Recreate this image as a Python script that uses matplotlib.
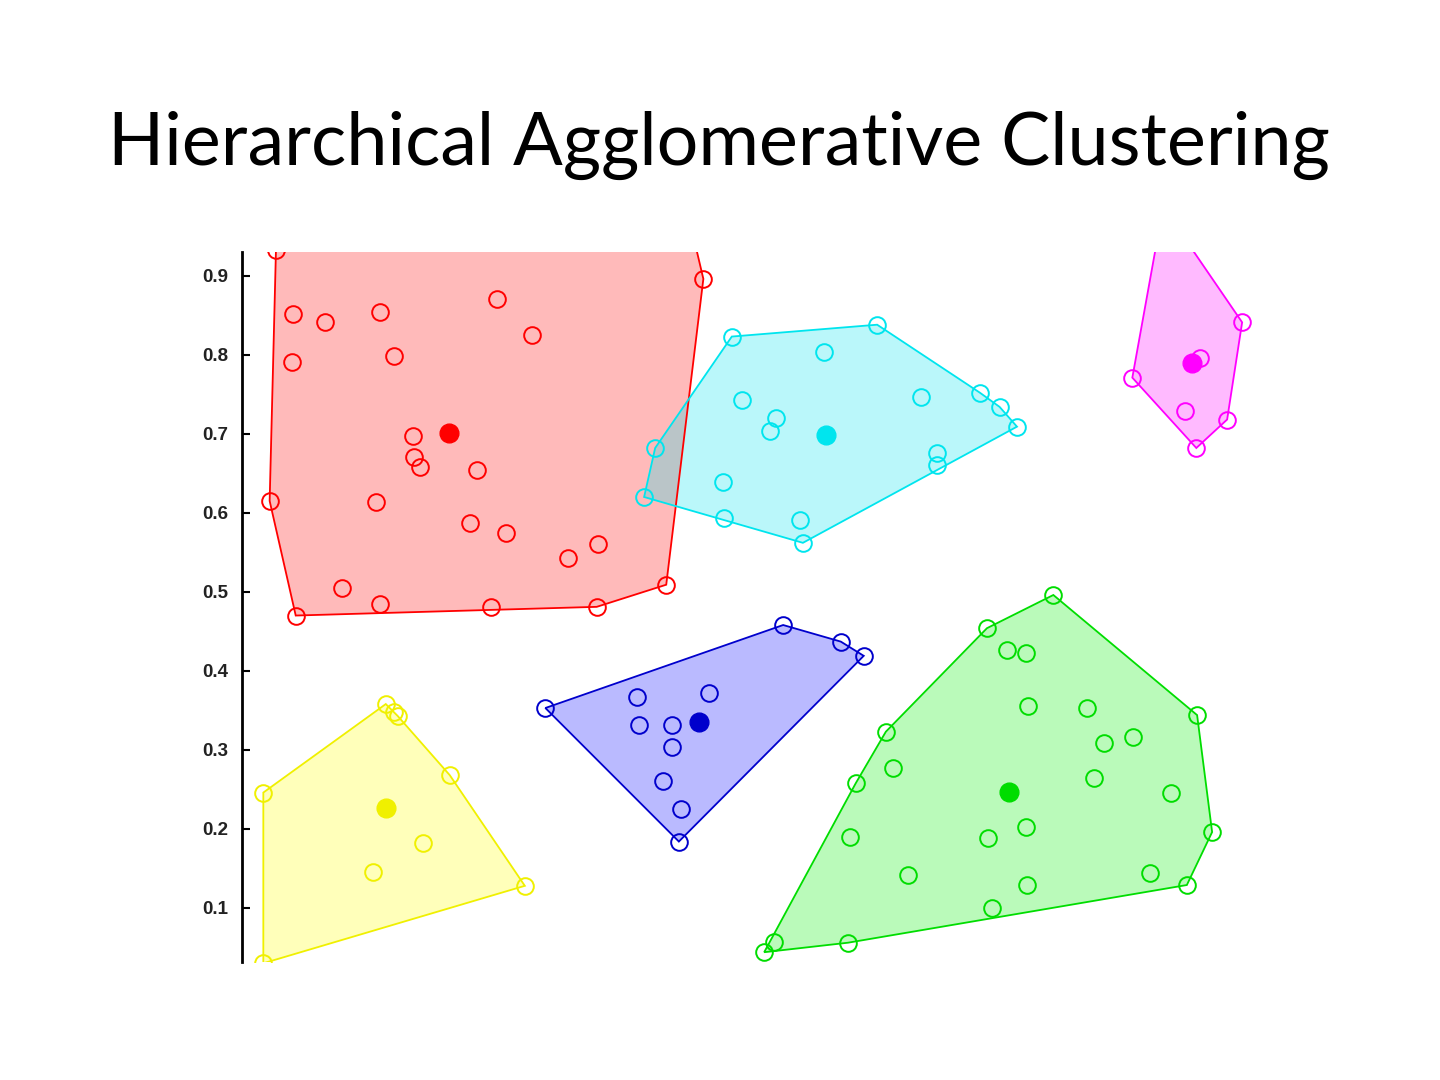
import matplotlib
matplotlib.use("Agg")
import matplotlib.pyplot as plt
import numpy as np

# ---- data (x in arbitrary units, y as on the axis) ----
red_x = [0.043, 0.584, 0.065, 0.105, 0.175, 0.323, 0.367, 0.192, 0.063, 0.216, 0.218, 0.225, 0.297,
         0.035, 0.170, 0.289, 0.334, 0.413, 0.451, 0.127, 0.537, 0.175, 0.315, 0.449, 0.068, 0.567]
red_y = [0.933, 0.896, 0.852, 0.841, 0.854, 0.871, 0.825, 0.799, 0.791, 0.697, 0.670, 0.658, 0.654,
         0.615, 0.614, 0.587, 0.575, 0.543, 0.561, 0.505, 0.509, 0.484, 0.481, 0.481, 0.470, 0.968]
red_c = (0.262, 0.701)

cyan_x = [0.620, 0.804, 0.737, 0.633, 0.676, 0.668, 0.859, 0.934, 0.959, 0.981, 0.880, 0.880,
          0.523, 0.509, 0.609, 0.610, 0.706, 0.710]
cyan_y = [0.823, 0.838, 0.804, 0.743, 0.720, 0.704, 0.746, 0.752, 0.734, 0.709, 0.676, 0.661,
          0.682, 0.620, 0.639, 0.594, 0.591, 0.562]
cyan_c = (0.739, 0.699)

mag_x = [1.266, 1.213, 1.127, 1.194, 1.247, 1.208, 1.166]
mag_y = [0.841, 0.796, 0.771, 0.729, 0.718, 0.682, 0.987]
mag_c = (1.203, 0.790)

blue_x = [0.384, 0.685, 0.758, 0.787, 0.500, 0.591, 0.503, 0.544, 0.544, 0.533, 0.556, 0.553]
blue_y = [0.353, 0.458, 0.437, 0.419, 0.367, 0.372, 0.332, 0.332, 0.304, 0.261, 0.225, 0.184]
blue_c = (0.578, 0.335)

yel_x = [0.182, 0.192, 0.197, 0.263, 0.027, 0.229, 0.166, 0.358, 0.027]
yel_y = [0.358, 0.348, 0.343, 0.268, 0.246, 0.182, 0.146, 0.128, 0.030]
yel_c = (0.182, 0.227)

grn_x = [1.027, 0.943, 0.968, 0.992, 0.995, 1.070, 1.209, 0.815, 1.128, 1.091, 0.824, 1.078, 0.777,
         1.176, 0.992, 0.944, 0.770, 1.228, 0.843, 1.149, 0.994, 1.196, 0.949, 0.767, 0.673, 0.661]
grn_y = [0.496, 0.454, 0.427, 0.423, 0.356, 0.353, 0.344, 0.323, 0.316, 0.309, 0.277, 0.265, 0.258,
         0.246, 0.203, 0.189, 0.190, 0.196, 0.142, 0.144, 0.129, 0.129, 0.100, 0.056, 0.057, 0.044]
grn_c = (0.971, 0.247)

y_ticks = [0.1, 0.2, 0.3, 0.4, 0.5, 0.6, 0.7, 0.8, 0.9]
title = "Hierarchical Agglomerative Clustering"

clusters = [
    (red_x, red_y, red_c, "#ff0000", "#ff0000"),
    (cyan_x, cyan_y, cyan_c, "#00e5ee", "#00e5ee"),
    (mag_x, mag_y, mag_c, "#ff00ff", "#ff00ff"),
    (blue_x, blue_y, blue_c, "#0000cc", "#0000ff"),
    (yel_x, yel_y, yel_c, "#f0f000", "#ffff00"),
    (grn_x, grn_y, grn_c, "#00dd00", "#00ee00"),
]


def hull(xs, ys):
    pts = sorted(set(zip(xs, ys)))
    if len(pts) < 3:
        return pts

    def cross(o, a, b):
        return (a[0] - o[0]) * (b[1] - o[1]) - (a[1] - o[1]) * (b[0] - o[0])

    lower, upper = [], []
    for p in pts:
        while len(lower) >= 2 and cross(lower[-2], lower[-1], p) <= 0:
            lower.pop()
        lower.append(p)
    for p in reversed(pts):
        while len(upper) >= 2 and cross(upper[-2], upper[-1], p) <= 0:
            upper.pop()
        upper.append(p)
    return lower[:-1] + upper[:-1]


fig = plt.figure(figsize=(14.4, 10.8), dpi=100)
fig.patch.set_facecolor("white")
ax = fig.add_axes([242 / 1440, 1 - 962 / 1080, (1300 - 242) / 1440, (962 - 252) / 1080])

for xs, ys, c, ec, fc in clusters:
    h = hull(xs, ys)
    poly = plt.Polygon(h, closed=True, facecolor=fc, alpha=0.27, edgecolor="none", zorder=1)
    ax.add_patch(poly)
    poly2 = plt.Polygon(h, closed=True, facecolor="none", edgecolor=ec, lw=1.3, zorder=2)
    ax.add_patch(poly2)
    ax.plot(xs, ys, "o", ms=12, mfc="none", mec=ec, mew=1.4, zorder=3)
    ax.plot([c[0]], [c[1]], "o", ms=13.5, color=ec, zorder=4)

ax.set_xlim(0, (1300 - 242) / 790)
ax.set_ylim(0.0316, 0.930)
ax.set_yticks(y_ticks)
ax.set_yticklabels([f"{t:.1f}" for t in y_ticks])
ax.set_xticks([])
for s in ["top", "right", "bottom"]:
    ax.spines[s].set_visible(False)
ax.spines["left"].set_linewidth(2.0)
ax.spines["left"].set_color("black")
ax.tick_params(axis="y", direction="in", length=6, width=1.5, pad=10, labelsize=13.5,
               colors="black")
for lab in ax.get_yticklabels():
    lab.set_family("Liberation Sans")
    lab.set_weight("bold")
    lab.set_color("#222222")
ax.set_facecolor("none")

fig.text(719 / 1440, 1 - 165 / 1080, title, ha="center", va="baseline",
         fontsize=53, family="Lato", color="black")

fig.savefig("out.png", dpi=100, facecolor="white")
